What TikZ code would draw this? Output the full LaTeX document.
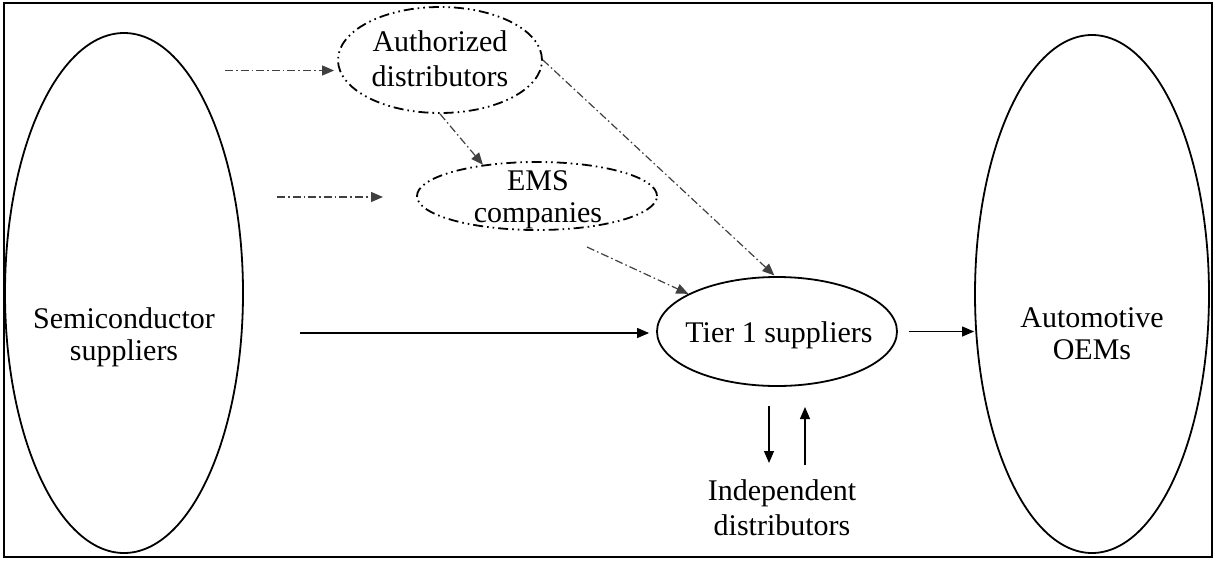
\documentclass[tikz,border=0pt]{standalone}
\usepackage{fontspec}
\setmainfont{Liberation Serif}
\usetikzlibrary{arrows.meta,positioning,shapes.geometric}

\begin{document}
\begin{tikzpicture}[x=0.5pt,y=-0.5pt,>={Triangle[length=6pt,width=5pt]},semithick,
                    every node/.style={font=\fontsize{15}{16}\selectfont,align=center},
                    party/.style={ellipse,draw,line width=0.9pt,inner sep=0pt},
                    channel/.style={ellipse,draw,line width=0.9pt,inner sep=0pt,
                                    dash pattern=on 5pt off 2pt on 0.8pt off 2pt on 0.8pt off 2pt},
                    flow/.style={draw=black!75,dash pattern=on 4pt off 1.5pt on 0.8pt off 1.5pt}]

\useasboundingbox (0,0) rectangle (1216,563);
\draw[line width=1pt] (4,3) rectangle (1212,557);

% ellipses
\node[party, minimum width=119pt, minimum height=260pt]   (SS)  at (124,293)   {};
\node[party, minimum width=117pt, minimum height=259pt]   (OEM) at (1092,294)  {};
\node[channel, minimum width=102pt, minimum height=53pt]  (AD)  at (440,60)    {};
\node[channel, minimum width=120pt, minimum height=34pt]  (EMS) at (537,196)   {};
\node[party, minimum width=120pt, minimum height=54.5pt]  (T1)  at (777,331.5) {};

% texts
\node (SSt)  at (124,337)   {Semiconductor\\suppliers};
\node (OEMt) at (1092,334)  {Automotive\\OEMs};
\node (ADt)  at (440,59)    {Authorized\\[1.5pt]distributors};
\node (EMSt) at (538,200)   {EMS\\companies};
\node (T1t)  at (779,335)   {Tier 1 suppliers};
\node (IDt)  at (782,508)   {Independent\\[1.5pt]distributors};

% free ends
\coordinate (a1) at (225,70.5);
\coordinate (a2) at (277,197);
\coordinate (b2) at (383,197);
\coordinate (a3) at (300,333);
\coordinate (e1) at (587,247);
\coordinate (d1) at (769,406);
\coordinate (d2) at (769,463);
\coordinate (u1) at (805,465);
\coordinate (u2) at (805,407);

\path (a1) edge[flow,->,shorten >=1.5pt] (a1 -| AD.west)
      (a2) edge[flow,->] (b2)
      (AD.south) edge[flow,->] (EMS.150)
      (AD.east) edge[flow,->,shorten >=0.5pt] (T1.92)
      (e1) edge[flow,->] (T1.157);

\path (a3) edge[->,shorten >=3.5pt] (a3 -| T1.west)
      (T1.east) edge[->,shorten <=5.5pt] (T1.east -| OEM.west)
      (d1) edge[->] (d2)
      (u1) edge[->] (u2);

\end{tikzpicture}
\end{document}
